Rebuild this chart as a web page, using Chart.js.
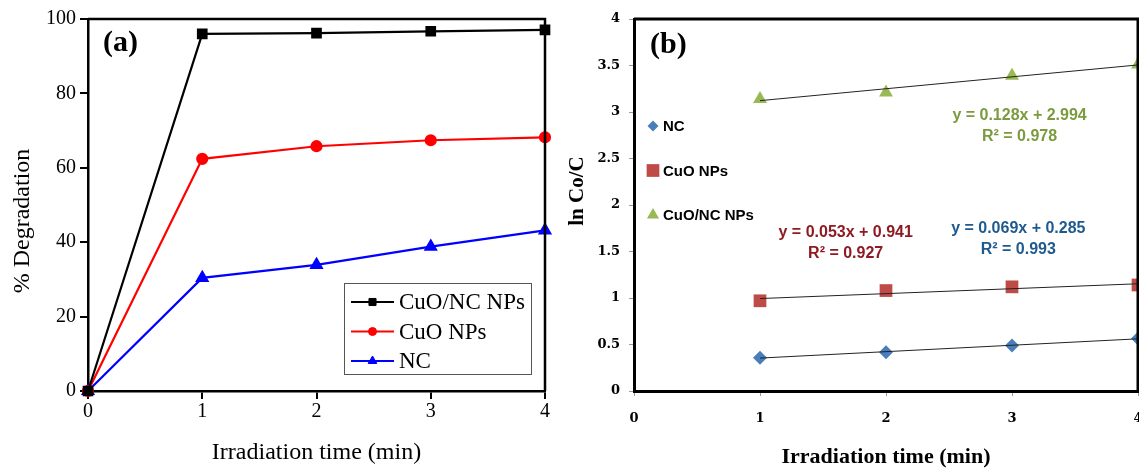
<!DOCTYPE html>
<html>
<head>
<meta charset="utf-8">
<script src="https://cdn.jsdelivr.net/npm/chart.js@4.4.1/dist/chart.umd.min.js"></script>
<style>
  html, body { margin: 0; padding: 0; background: #fff; overflow: hidden; }
  body { width: 1139px; height: 471px; position: relative; }
  .panel { position: absolute; top: 0; height: 471px; }
  #panelA { left: 0; width: 570px; }
  #panelB { left: 545px; width: 620px; }
</style>
</head>
<body>
<div class="panel" id="panelA"><canvas id="chartA"></canvas></div>
<div class="panel" id="panelB"><canvas id="chartB"></canvas></div>
<script>
// (a) % degradation vs irradiation time
const timeA = [0, 1, 2, 3, 4];
const degCuONC = [0, 96.0, 96.2, 96.7, 97.1];
const degCuO = [0, 62.4, 65.8, 67.4, 68.2];
const degNC = [0, 30.4, 33.9, 38.8, 43.2];
const xTicksA = [0, 1, 2, 3, 4];
const yTicksA = [0, 20, 40, 60, 80, 100];

// (b) ln(Co/C) vs irradiation time, with the linear fits
const timeB = [1, 2, 3, 4];
const lnNC = [0.357, 0.418, 0.49, 0.564];
const lnCuO = [0.97, 1.08, 1.12, 1.14];
const lnCuONC = [3.14, 3.21, 3.39, 3.51];
const fitX = [1, 4];
const fitNC = [0.354, 0.561];
const fitCuO = [0.994, 1.153];
const fitCuONC = [3.122, 3.506];
const xTicksB = [0, 1, 2, 3, 4];
const yTicksB = [0, 0.5, 1, 1.5, 2, 2.5, 3, 3.5, 4];
const eqCuONC = ['y = 0.128x + 2.994', 'R² = 0.978'];
const eqCuO = ['y = 0.053x + 0.941', 'R² = 0.927'];
const eqNC = ['y = 0.069x + 0.285', 'R² = 0.993'];

const serif = "'Liberation Serif', 'Times New Roman', serif";
const sans = "'Liberation Sans', Arial, sans-serif";
const pts = (xs, ys) => xs.map((x, i) => ({ x, y: ys[i] }));
const fixTicks = arr => scale => { scale.ticks = arr.map(v => ({ value: v })); };

// top + right edges of the plot box
const frame = {
  id: 'frame',
  afterDatasetsDraw(chart, args, opts) {
    const { ctx, chartArea: a } = chart;
    ctx.save();
    ctx.strokeStyle = '#000';
    ctx.lineWidth = opts.width;
    ctx.beginPath();
    ctx.moveTo(a.left, a.top);
    ctx.lineTo(a.right, a.top);
    ctx.lineTo(a.right, a.bottom);
    ctx.stroke();
    ctx.restore();
  }
};

// free text: axis titles and panel letters
const texts = {
  id: 'texts',
  afterDraw(chart, args, opts) {
    const ctx = chart.ctx;
    (opts.items || []).forEach(t => {
      ctx.save();
      ctx.translate(t.x, t.y);
      if (t.rotate) ctx.rotate(t.rotate);
      ctx.font = t.font;
      ctx.fillStyle = t.color || '#000';
      ctx.textAlign = t.align || 'center';
      ctx.textBaseline = 'middle';
      ctx.fillText(t.text, 0, 0);
      ctx.restore();
    });
  }
};

// boxed legend with line + marker samples (panel a)
const boxLegend = {
  id: 'boxLegend',
  afterDraw(chart, args, o) {
    const { ctx, chartArea: a } = chart;
    const x0 = a.right - o.right - o.width;
    const y0 = a.bottom - o.bottom - o.height;
    ctx.save();
    ctx.fillStyle = '#fff';
    ctx.fillRect(x0, y0, o.width, o.height);
    ctx.strokeStyle = '#555';
    ctx.lineWidth = 1;
    ctx.strokeRect(x0 + 0.5, y0 + 0.5, o.width, o.height);
    chart.data.datasets.forEach((ds, i) => {
      const y = y0 + o.firstRow + i * o.rowGap;
      ctx.strokeStyle = ds.borderColor;
      ctx.lineWidth = ds.borderWidth;
      ctx.beginPath();
      ctx.moveTo(x0 + 7, y);
      ctx.lineTo(x0 + 50, y);
      ctx.stroke();
      ctx.fillStyle = ds.pointBackgroundColor;
      ctx.lineWidth = 1;
      Chart.helpers.drawPoint(ctx, { pointStyle: ds.pointStyle, radius: ds.pointRadius - 1, borderWidth: 1, rotation: 0 }, x0 + 28.5, y);
      ctx.fillStyle = '#000';
      ctx.font = o.font;
      ctx.textAlign = 'left';
      ctx.textBaseline = 'middle';
      ctx.fillText(ds.label, x0 + 55, y + 1);
    });
    ctx.restore();
  }
};

// marker-only legend inside the plot (panel b)
const markerLegend = {
  id: 'markerLegend',
  afterDraw(chart, args, o) {
    const { ctx, chartArea: a } = chart;
    ctx.save();
    chart.data.datasets.filter(ds => ds.inLegend).forEach((ds, i) => {
      const y = a.top + o.firstRow + i * o.rowGap;
      ctx.fillStyle = ds.backgroundColor;
      ctx.strokeStyle = ds.backgroundColor;
      Chart.helpers.drawPoint(ctx, { pointStyle: ds.pointStyle, radius: ds.legendRadius, borderWidth: 0, rotation: 0 }, a.left + 19, y);
      ctx.fillStyle = '#000';
      ctx.font = o.font;
      ctx.textAlign = 'left';
      ctx.textBaseline = 'middle';
      ctx.fillText(ds.label, a.left + 29, y + 1);
    });
    ctx.restore();
  }
};

// fit equations anchored in data space (panel b)
const equations = {
  id: 'equations',
  afterDraw(chart, args, o) {
    const { ctx, scales } = chart;
    ctx.save();
    ctx.font = o.font;
    ctx.textAlign = 'center';
    ctx.textBaseline = 'middle';
    o.items.forEach(e => {
      const x = scales.x.getPixelForValue(e.at[0]);
      const y = scales.y.getPixelForValue(e.at[1]);
      ctx.fillStyle = e.color;
      e.lines.forEach((line, k) => ctx.fillText(line, x, y + k * 21));
    });
    ctx.restore();
  }
};

// ---------- panel (a) ----------
new Chart(document.getElementById('chartA'), {
  type: 'line',
  data: {
    datasets: [{
      label: 'CuO/NC NPs',
      data: pts(timeA, degCuONC),
      borderColor: '#000', pointBackgroundColor: '#000', pointBorderColor: '#000',
      pointStyle: 'rect', pointRadius: 6
    }, {
      label: 'CuO NPs',
      data: pts(timeA, degCuO),
      borderColor: '#ff0000', pointBackgroundColor: '#ff0000', pointBorderColor: '#ff0000',
      pointStyle: 'circle', pointRadius: 5
    }, {
      label: 'NC',
      data: pts(timeA, degNC),
      borderColor: '#0000ff', pointBackgroundColor: '#0000ff', pointBorderColor: '#0000ff',
      pointStyle: 'triangle', pointRadius: 6
    }].map(ds => Object.assign(ds, { borderWidth: 2.2, tension: 0, clip: false }))
  },
  options: {
    responsive: true,
    maintainAspectRatio: false,
    animation: false,
    layout: { padding: { left: 0, right: 25, top: 19, bottom: 0 } },
    scales: {
      x: {
        type: 'linear', min: 0, max: 4,
        afterFit: s => { s.height = 80; },
        afterBuildTicks: fixTicks(xTicksA),
        ticks: { font: { family: serif, size: 20 }, color: '#000', padding: 1 },
        grid: { drawOnChartArea: false, tickLength: 8, color: '#000', lineWidth: 2 },
        border: { color: '#000', width: 2.5 },
        title: { display: true, text: 'Irradiation time (min)', font: { family: serif, size: 24 }, color: '#000', padding: { top: 0, bottom: 4 } }
      },
      y: {
        min: 0, max: 100,
        afterFit: s => { s.width = 88; },
        afterBuildTicks: fixTicks(yTicksA),
        ticks: { font: { family: serif, size: 20 }, color: '#000', padding: 4 },
        grid: { drawOnChartArea: false, tickLength: 8, color: '#000', lineWidth: 2 },
        border: { color: '#000', width: 2.5 }
      }
    },
    plugins: {
      legend: { display: false },
      tooltip: { enabled: false },
      frame: { width: 2.5 },
      boxLegend: { width: 187, height: 91, right: 14, bottom: 17, firstRow: 19, rowGap: 29.5, font: '23px ' + serif },
      texts: {
        items: [
          { text: '% Degradation', x: 23, y: 221, rotate: -Math.PI / 2, font: '24px ' + serif },
          { text: '(a)', x: 103, y: 43, align: 'left', font: 'bold 30px ' + serif }
        ]
      }
    }
  },
  plugins: [frame, boxLegend, texts]
});

// ---------- panel (b) ----------
new Chart(document.getElementById('chartB'), {
  type: 'scatter',
  data: {
    datasets: [{
      label: 'NC', data: pts(timeB, lnNC), inLegend: true,
      pointStyle: 'rectRot', pointRadius: 7, legendRadius: 5.5,
      backgroundColor: '#4A7EBB', borderColor: '#4A7EBB', order: 1
    }, {
      label: 'CuO NPs', data: pts(timeB, lnCuO), inLegend: true,
      pointStyle: 'rect', pointRadius: 9, legendRadius: 9,
      backgroundColor: '#BE4B48', borderColor: '#BE4B48', order: 1
    }, {
      label: 'CuO/NC NPs', data: pts(timeB, lnCuONC), inLegend: true,
      pointStyle: 'triangle', pointRadius: 8, legendRadius: 7,
      backgroundColor: '#98B954', borderColor: '#98B954', order: 1
    }, {
      label: 'fit NC', data: pts(fitX, fitNC), showLine: true
    }, {
      label: 'fit CuO', data: pts(fitX, fitCuO), showLine: true
    }, {
      label: 'fit CuO/NC', data: pts(fitX, fitCuONC), showLine: true
    }].map(ds => ds.showLine
      ? Object.assign(ds, { borderColor: '#222', borderWidth: 1, pointRadius: 0, order: 0, clip: false })
      : Object.assign(ds, { clip: false, borderWidth: 0 }))
  },
  options: {
    responsive: true,
    maintainAspectRatio: false,
    animation: false,
    layout: { padding: { left: 0, right: 27, top: 19, bottom: 0 } },
    scales: {
      x: {
        type: 'linear', min: 0, max: 4,
        afterFit: s => { s.height = 80; },
        afterBuildTicks: fixTicks(xTicksB),
        ticks: { font: { family: 'DejaVu Serif', size: 13, weight: 'bold' }, color: '#000', padding: 15 },
        grid: { drawOnChartArea: false, tickLength: 5, color: '#999', lineWidth: 1 },
        border: { color: '#000', width: 3 },
        title: { display: true, text: 'Irradiation time (min)', font: { family: serif, size: 22, weight: 'bold' }, color: '#000', padding: { top: 0, bottom: 0 } }
      },
      y: {
        min: 0, max: 4,
        afterFit: s => { s.width = 89; },
        afterBuildTicks: fixTicks(yTicksB),
        ticks: { font: { family: 'DejaVu Serif', size: 13, weight: 'bold' }, color: '#000', padding: 9, callback: v => String(v) },
        grid: { drawOnChartArea: false, tickLength: 5, color: '#999', lineWidth: 1 },
        border: { color: '#000', width: 3 }
      }
    },
    plugins: {
      legend: { display: false },
      tooltip: { enabled: false },
      frame: { width: 3 },
      markerLegend: { firstRow: 107, rowGap: 44.5, font: 'bold 15px ' + sans },
      equations: {
        font: 'bold 16px ' + sans,
        items: [
          { lines: eqCuONC, at: [3.06, 2.96], color: '#7B9B3E' },
          { lines: eqCuO, at: [1.68, 1.70], color: '#8E1B22' },
          { lines: eqNC, at: [3.05, 1.75], color: '#1F5A8E' }
        ]
      },
      texts: {
        items: [
          { text: 'ln Co/C', x: 33, y: 191, rotate: -Math.PI / 2, font: 'bold 21px ' + serif },
          { text: '(b)', x: 105, y: 45, align: 'left', font: 'bold 30px ' + serif }
        ]
      }
    }
  },
  plugins: [frame, markerLegend, equations, texts]
});
</script>
</body>
</html>
